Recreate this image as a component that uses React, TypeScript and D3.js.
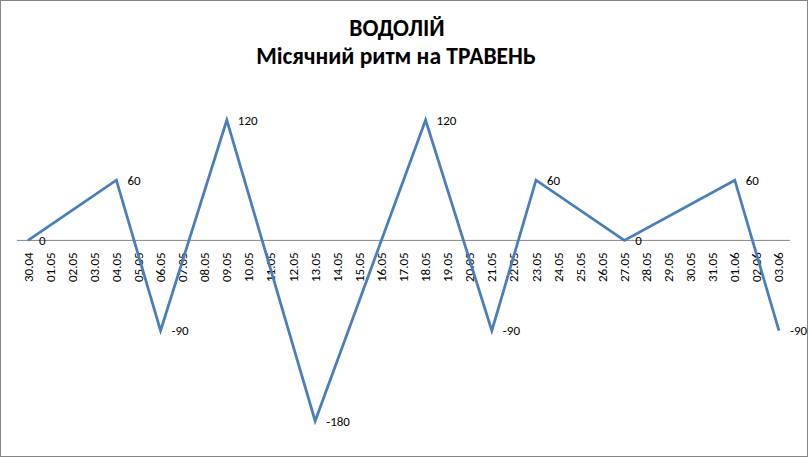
import React, { useEffect, useRef } from 'react';
import * as d3 from 'd3';

const dates = [
  '30.04', '01.05', '02.05', '03.05', '04.05', '05.05', '06.05', '07.05', '08.05', '09.05',
  '10.05', '11.05', '12.05', '13.05', '14.05', '15.05', '16.05', '17.05', '18.05', '19.05',
  '20.05', '21.05', '22.05', '23.05', '24.05', '25.05', '26.05', '27.05', '28.05', '29.05',
  '30.05', '31.05', '01.06', '02.06', '03.06',
];

// turning points of the rhythm line (label shown for each)
const pointDates = ['30.04', '04.05', '06.05', '09.05', '13.05', '18.05', '21.05', '23.05', '27.05', '01.06', '03.06'];
const pointValues = [0, 60, -90, 120, -180, 120, -90, 60, 0, 60, -90];

const title1 = 'ВОДОЛІЙ';
const title2 = 'Місячний ритм на ТРАВЕНЬ';

export default function App() {
  const svgRef = useRef<SVGSVGElement>(null);

  useEffect(() => {
    document.body.style.margin = '0';
    if (!svgRef.current) return;
    const width = 808;
    const height = 457;
    const svg = d3.select(svgRef.current);
    svg.selectAll('*').remove();
    svg.attr('width', width).attr('height', height).style('display', 'block');

    const font = 'Carlito, "Open Sans", "Liberation Sans", sans-serif';

    svg.append('rect')
      .attr('x', 0.5).attr('y', 0.5)
      .attr('width', width - 1).attr('height', height - 1)
      .attr('fill', '#fff')
      .attr('stroke', '#868686');

    // titles
    svg.append('text')
      .attr('x', 397).attr('y', 36)
      .attr('text-anchor', 'middle')
      .attr('font-family', font).attr('font-weight', 'bold').attr('font-size', 23.5)
      .text(title1);
    svg.append('text')
      .attr('x', 396).attr('y', 64)
      .attr('text-anchor', 'middle')
      .attr('font-family', font).attr('font-weight', 'bold').attr('font-size', 23.5)
      .text(title2);

    const x = d3.scaleBand().domain(dates).range([17, 790]);
    const y = d3.scaleLinear().domain([-180, 120]).range([421, 120]);
    const cx = (d: string) => (x(d) ?? 0) + x.bandwidth() / 2;

    // category axis at zero
    svg.append('line')
      .attr('x1', 17).attr('x2', 790)
      .attr('y1', y(0)).attr('y2', y(0))
      .attr('stroke', '#868686').attr('stroke-width', 1);

    svg.append('g')
      .selectAll('text')
      .data(dates)
      .join('text')
      .attr('transform', d => `translate(${cx(d) + 4.5},${y(0) + 12}) rotate(-90)`)
      .attr('text-anchor', 'end')
      .attr('font-family', font).attr('font-size', 13)
      .attr('fill', '#000')
      .text(d => d);

    const pts: [string, number][] = pointDates.map((d, i) => [d, pointValues[i]]);

    const line = d3.line<[string, number]>()
      .x(d => cx(d[0]))
      .y(d => y(d[1]));

    svg.append('path')
      .datum(pts)
      .attr('d', line)
      .attr('fill', 'none')
      .attr('stroke', '#4a7ebb')
      .attr('stroke-width', 2.75)
      .attr('stroke-linejoin', 'miter');

    svg.append('g')
      .selectAll('text')
      .data(pts)
      .join('text')
      .attr('x', d => cx(d[0]) + 11)
      .attr('y', d => y(d[1]) + 4.5)
      .attr('font-family', font).attr('font-size', 13)
      .attr('fill', '#000')
      .text(d => String(d[1]));
  }, []);

  return <svg ref={svgRef} />;
}
